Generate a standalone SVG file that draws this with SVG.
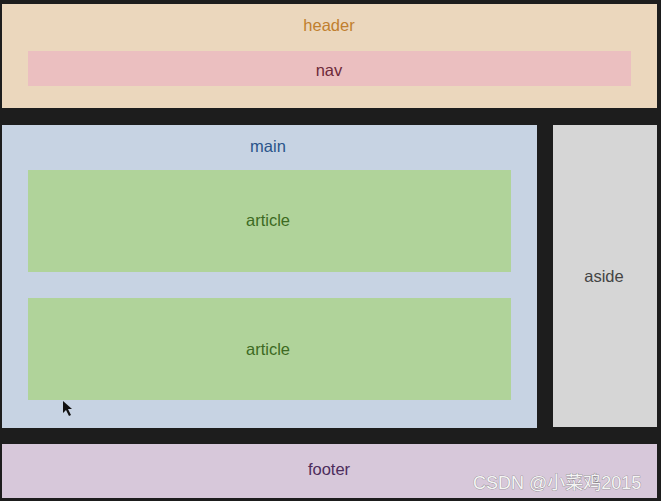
<svg xmlns="http://www.w3.org/2000/svg" width="661" height="501" viewBox="0 0 661 501">
<style>
.lbl{font-family:"Liberation Sans","Helvetica",Arial,sans-serif;font-size:16.5px;text-anchor:middle}
.wm{font-family:"Liberation Sans","Noto Sans CJK SC",sans-serif;font-size:18px;fill:#f4f4f4;stroke:#777;stroke-width:0.6;paint-order:stroke}
</style>
<rect x="0" y="0" width="661" height="501" fill="#1d1d1d"/>
<g id="header">
<rect x="2" y="4" width="655" height="104" fill="#ebd7bd"/>
<text class="lbl" x="329" y="31" fill="#c07f2e">header</text>
</g>
<g id="nav">
<rect x="28" y="51" width="603" height="35" fill="#ebbfc0"/>
<text class="lbl" x="329" y="76" fill="#6e2a3a">nav</text>
</g>
<g id="main">
<rect x="2" y="125" width="535" height="303" fill="#c7d3e3"/>
<text class="lbl" x="268" y="152" fill="#2a548a">main</text>
</g>
<g id="article1">
<rect x="28" y="170" width="483" height="102" fill="#b0d39a"/>
<text class="lbl" x="268" y="226" fill="#3d6a22">article</text>
</g>
<g id="article2">
<rect x="28" y="298" width="483" height="102" fill="#b0d39a"/>
<text class="lbl" x="268" y="355" fill="#3d6a22">article</text>
</g>
<g id="aside">
<rect x="553" y="125" width="104" height="302" fill="#d6d6d6"/>
<text class="lbl" x="604" y="282" fill="#444444">aside</text>
</g>
<g id="footer">
<rect x="2" y="444" width="655" height="54" fill="#d7c8da"/>
<text class="lbl" x="329" y="475" fill="#4c2c5c">footer</text>
</g>
<g id="connectors"></g>
<polygon points="63,401 63,413 66,410 69,416 71,415 68,409 72,409" fill="#111"/>
<text class="wm" x="473" y="489">CSDN @小菜鸡2015</text>
</svg>
